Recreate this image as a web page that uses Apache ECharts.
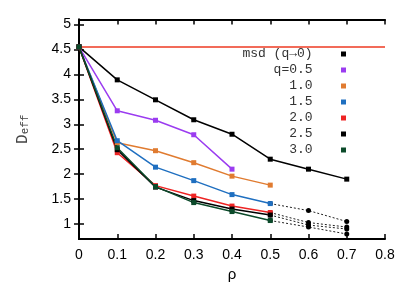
<!DOCTYPE html>
<html>
<head>
<meta charset="utf-8">
<script src="https://cdn.jsdelivr.net/npm/echarts@6/dist/echarts.min.js"></script>
<style>
html,body{margin:0;padding:0;background:#fff;}
#c{width:415px;height:291px;}
</style>
</head>
<body>
<div id="c"></div>
<script>
var rho = [0, 0.1, 0.2, 0.3, 0.4, 0.5, 0.6, 0.7];
var rhoExt = [0.5, 0.6, 0.7];
var yTicks = [1, 1.5, 2, 2.5, 3, 3.5, 4, 4.5, 5];
var msdLevel = 4.55;

var msd  = [4.55, 3.89, 3.49, 3.09, 2.80, 2.30, 2.10, 1.90];
var q05  = [4.55, 3.27, 3.08, 2.79, 2.10];
var q10  = [4.55, 2.63, 2.47, 2.23, 1.96, 1.78];
var q15  = [4.55, 2.67, 2.14, 1.87, 1.59, 1.41];
var q20  = [4.55, 2.43, 1.77, 1.56, 1.36, 1.23];
var q25  = [4.55, 2.49, 1.74, 1.47, 1.30, 1.18];
var q30  = [4.55, 2.53, 1.75, 1.43, 1.25, 1.07];

var q15Ext = [1.41, 1.27, 1.05];
var q20Ext = [1.23, 1.03, 0.94];
var q25Ext = [1.18, 0.98, 0.90];
var q30Ext = [1.07, 0.94, 0.80];

var names  = ['msd (q\u21920)', 'q=0.5', '1.0', '1.5', '2.0', '2.5', '3.0'];
var colors = ['#000000', '#9b3cf0', '#e07b30', '#1f6fc0', '#ee2424', '#000000', '#0b4a2a'];
var mainData = [msd, q05, q10, q15, q20, q25, q30];
var extData = [q15Ext, q20Ext, q25Ext, q30Ext];

function pairs(xs, ys) { return ys.map(function (v, i) { return [xs[i], v]; }); }

var series = [];
series.push({
  type: 'line', data: [[0, msdLevel], [0.8, msdLevel]], showSymbol: false, silent: true,
  lineStyle: { color: '#ee3a22', width: 1.5 }, z: 1
});
extData.forEach(function (d) {
  series.push({
    type: 'line', data: pairs(rhoExt, d), symbol: 'circle', symbolSize: 5,
    itemStyle: { color: '#000' }, lineStyle: { color: '#222', width: 1, type: [2, 2] }, z: 2
  });
});
mainData.forEach(function (d, i) {
  series.push({
    name: names[i], type: 'line', data: pairs(rho, d), symbol: 'rect', symbolSize: 5,
    itemStyle: { color: colors[i] }, lineStyle: { color: colors[i], width: 1.5 }, z: 3
  });
});

function pad(s) { while (s.length < 9) s = ' ' + s; return s + '   '; }

var chart = echarts.init(document.getElementById('c'), null, { renderer: 'canvas' });
chart.setOption({
  animation: false,
  backgroundColor: '#fff',
  grid: { left: 79, right: 30, top: 19.5, bottom: 52, containLabel: false },
  legend: {
    data: names, orient: 'vertical', align: 'right', right: 69, top: 46,
    icon: 'rect', itemWidth: 5, itemHeight: 5, itemGap: 0, padding: 0,
    formatter: function (n) { return pad(n); },
    textStyle: { fontFamily: 'Liberation Mono', fontSize: 13, color: '#333', lineHeight: 16 }
  },
  xAxis: [{
    type: 'value', min: 0, max: 0.8, interval: 0.1, position: 'bottom',
    name: '\u03c1', nameLocation: 'middle', nameGap: 28,
    nameTextStyle: { fontFamily: 'Liberation Sans', fontSize: 15, color: '#000' },
    axisLine: { show: true, lineStyle: { color: '#000', width: 2 } },
    axisTick: { show: true, inside: true, length: 5, lineStyle: { color: '#000', width: 1.5 } },
    axisLabel: { fontFamily: 'Liberation Sans', fontSize: 14, color: '#000', margin: 9 },
    splitLine: { show: false }
  }, {
    type: 'value', min: 0, max: 0.8, interval: 0.1, position: 'top',
    axisLine: { show: true, lineStyle: { color: '#000', width: 2 } },
    axisTick: { show: true, inside: true, length: 5, lineStyle: { color: '#000', width: 1.5 } },
    axisLabel: { show: false }, splitLine: { show: false }
  }],
  yAxis: [{
    type: 'value', min: 0.7, max: 5.1, position: 'left',
    name: 'D{s|eff}', nameLocation: 'middle', nameGap: 48, nameRotate: 90,
    nameTextStyle: {
      fontFamily: 'Liberation Mono', fontSize: 16, color: '#444',
      rich: { s: { fontFamily: 'Liberation Mono', fontSize: 11, color: '#444', verticalAlign: 'bottom', padding: [6, 0, 0, 0] } }
    },
    axisLine: { show: true, lineStyle: { color: '#000', width: 2 } },
    axisTick: { show: true, inside: true, length: 5, customValues: yTicks, lineStyle: { color: '#000', width: 1.5 } },
    axisLabel: { fontFamily: 'Liberation Sans', fontSize: 14, color: '#000', margin: 8, customValues: yTicks },
    splitLine: { show: false }
  }, {
    type: 'value', min: 0.7, max: 5.1, position: 'right',
    axisLine: { show: true, lineStyle: { color: '#000', width: 2 } },
    axisTick: { show: true, inside: true, length: 5, customValues: yTicks, lineStyle: { color: '#000', width: 1.5 } },
    axisLabel: { show: false, customValues: yTicks }, splitLine: { show: false }
  }],
  series: series
});
</script>
</body>
</html>
